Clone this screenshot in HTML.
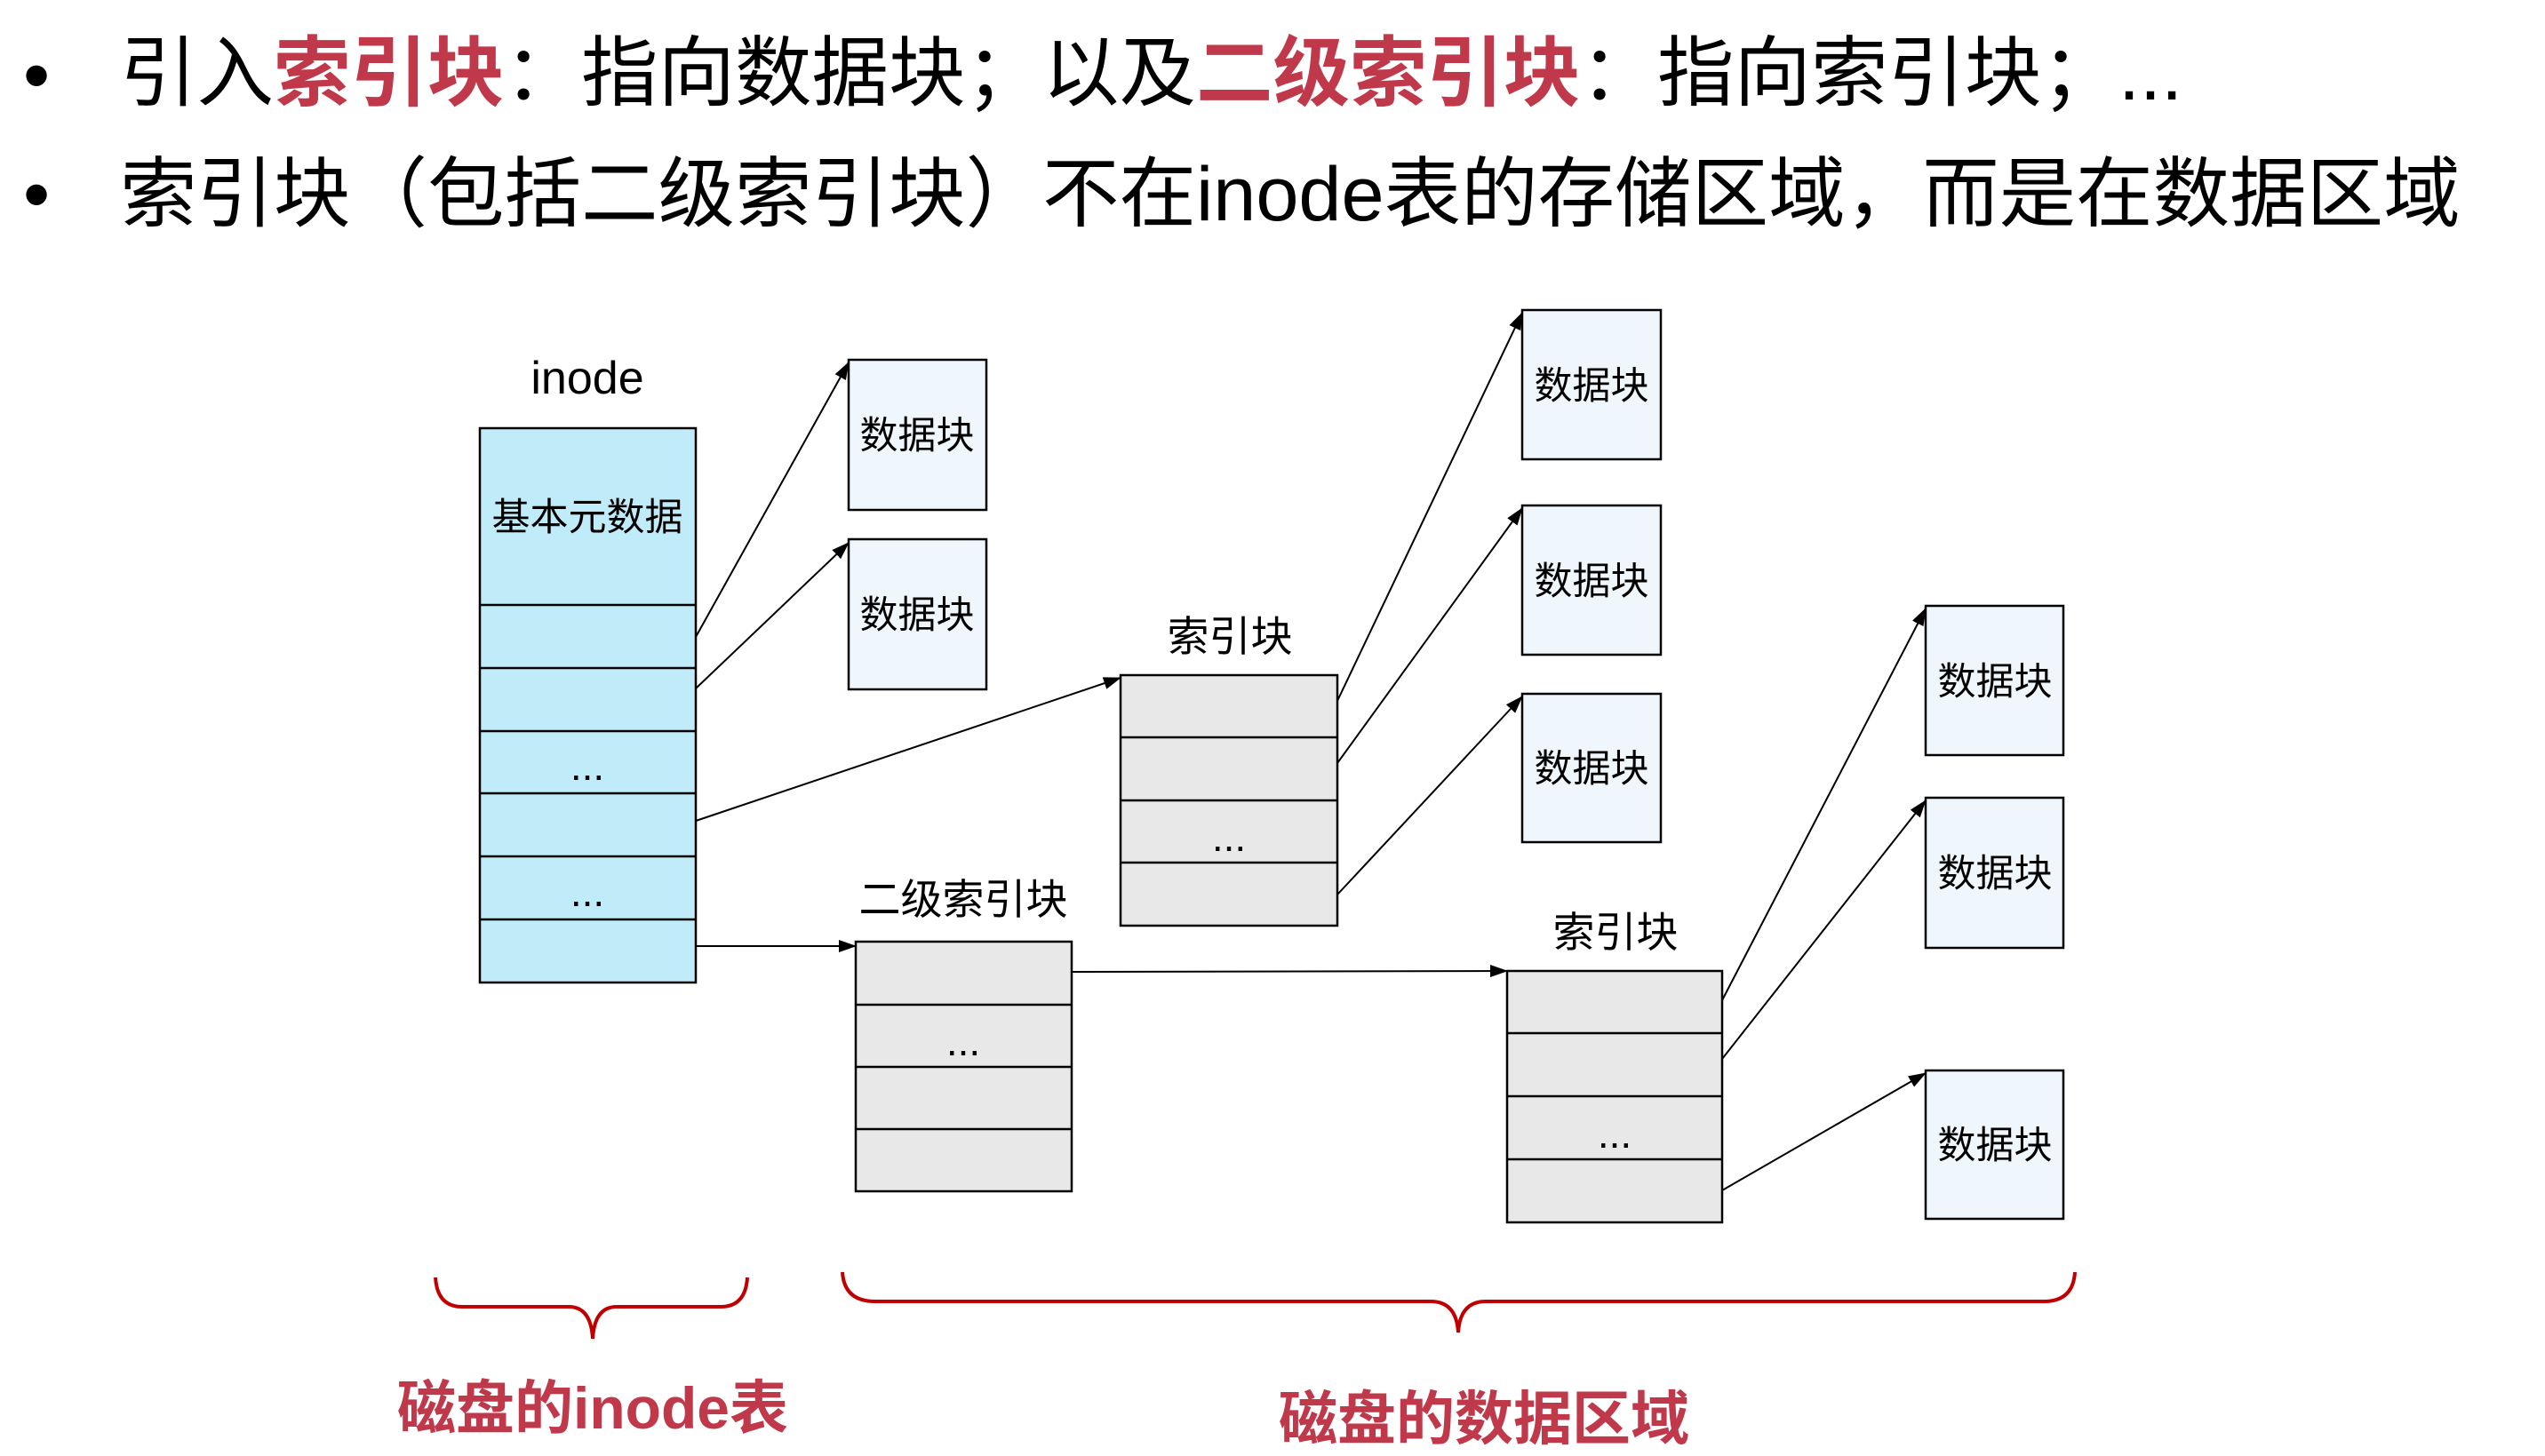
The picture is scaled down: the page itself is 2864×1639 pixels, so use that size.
<!DOCTYPE html>
<html><head><meta charset="utf-8"><style>
html,body{margin:0;padding:0;background:#fff;}
body{width:2864px;height:1639px;overflow:hidden;position:relative;font-family:"Liberation Sans","Noto Sans CJK SC",sans-serif;}
.line{position:absolute;left:135px;font-size:86.5px;line-height:1;color:#000;white-space:nowrap;}
.b{position:absolute;left:26px;font-size:86px;line-height:1;}
.r{color:#c0394b;font-weight:bold;}
</style></head><body>
<div class="b" style="top:42px">•</div>
<div class="line" style="top:40px">引入<span class="r">索引块</span>：指向数据块；以及<span class="r">二级索引块</span>：指向索引块；...</div>
<div class="b" style="top:176px">•</div>
<div class="line" style="top:176px">索引块（包括二级索引块）不在inode表的存储区域，而是在数据区域</div>
<svg width="2864" height="1639" style="position:absolute;left:0;top:0" font-family="Liberation Sans, Noto Sans CJK SC, sans-serif">
<defs>
<marker id="ab" markerWidth="20" markerHeight="14" refX="19" refY="7" orient="auto" markerUnits="userSpaceOnUse"><path d="M0,0 L20,7 L0,14z" fill="#000"/></marker></defs>
<g stroke="#000" stroke-width="2.5">
<rect x="540" y="482" width="243" height="624" fill="#c0ecfa"/>
<line x1="540" y1="681" x2="783" y2="681"/><line x1="540" y1="752" x2="783" y2="752"/><line x1="540" y1="823" x2="783" y2="823"/><line x1="540" y1="893" x2="783" y2="893"/><line x1="540" y1="964" x2="783" y2="964"/><line x1="540" y1="1035" x2="783" y2="1035"/>
<rect x="955" y="405" width="155" height="169" fill="#eff7fd"/>
<rect x="955" y="607" width="155" height="169" fill="#eff7fd"/>
<rect x="1261" y="760" width="244" height="282" fill="#e8e8e8"/>
<line x1="1261" y1="830" x2="1505" y2="830"/><line x1="1261" y1="901" x2="1505" y2="901"/><line x1="1261" y1="971" x2="1505" y2="971"/>
<rect x="963" y="1060" width="243" height="281" fill="#e8e8e8"/>
<line x1="963" y1="1131" x2="1206" y2="1131"/><line x1="963" y1="1201" x2="1206" y2="1201"/><line x1="963" y1="1271" x2="1206" y2="1271"/>
<rect x="1713" y="349" width="156" height="168" fill="#eff7fd"/>
<rect x="1713" y="569" width="156" height="168" fill="#eff7fd"/>
<rect x="1713" y="781" width="156" height="167" fill="#eff7fd"/>
<rect x="1696" y="1093" width="242" height="283" fill="#e8e8e8"/>
<line x1="1696" y1="1163" x2="1938" y2="1163"/><line x1="1696" y1="1234" x2="1938" y2="1234"/><line x1="1696" y1="1305" x2="1938" y2="1305"/>
<rect x="2167" y="682" width="155" height="168" fill="#eff7fd"/>
<rect x="2167" y="898" width="155" height="169" fill="#eff7fd"/>
<rect x="2167" y="1205" width="155" height="167" fill="#eff7fd"/>
</g>
<g stroke="#000" stroke-width="2" fill="none" marker-end="url(#ab)">
<line x1="783" y1="717" x2="955" y2="408"/>
<line x1="783" y1="775" x2="955" y2="611"/>
<line x1="783" y1="924" x2="1261" y2="763"/>
<line x1="783" y1="1065" x2="963" y2="1065"/>
<line x1="1206" y1="1094" x2="1696" y2="1093"/>
<line x1="1505" y1="789" x2="1713" y2="352"/>
<line x1="1505" y1="859" x2="1713" y2="572"/>
<line x1="1505" y1="1007" x2="1713" y2="784"/>
<line x1="1938" y1="1126" x2="2167" y2="685"/>
<line x1="1938" y1="1192" x2="2167" y2="901"/>
<line x1="1938" y1="1340" x2="2167" y2="1208"/>
</g>
<g font-size="43" text-anchor="middle" fill="#000">
<text x="661" y="443" font-size="52">inode</text>
<text x="661" y="597">基本元数据</text>
<text x="661" y="878" font-size="46">...</text><text x="661" y="1020" font-size="46">...</text>
<text x="1032" y="505">数据块</text><text x="1032" y="707">数据块</text>
<text x="1384" y="733" font-size="47">索引块</text>
<text x="1383" y="958" font-size="46">...</text>
<text x="1084" y="1029" font-size="47">二级索引块</text>
<text x="1084" y="1188" font-size="46">...</text>
<text x="1791" y="449">数据块</text><text x="1791" y="669">数据块</text><text x="1791" y="880">数据块</text>
<text x="1818" y="1066" font-size="47">索引块</text>
<text x="1817" y="1292" font-size="46">...</text>
<text x="2245" y="782">数据块</text><text x="2245" y="998">数据块</text><text x="2245" y="1304">数据块</text>
</g>
<g stroke="#c00000" stroke-width="4" fill="none">
<path d="M490,1438 Q492,1471 520,1471 L640,1471 Q665,1471 667,1507 Q669,1471 694,1471 L811,1471 Q839,1471 841,1438"/>
<path d="M948,1432 Q950,1465 985,1465 L1610,1465 Q1639,1465 1641,1500 Q1643,1465 1672,1465 L2300,1465 Q2333,1465 2335,1432"/>
</g>
<g font-size="66" font-weight="bold" fill="#c0394b" text-anchor="middle">
<text x="667" y="1608">磁盘的inode表</text>
<text x="1670" y="1620">磁盘的数据区域</text>
</g>
</svg>
</body></html>
